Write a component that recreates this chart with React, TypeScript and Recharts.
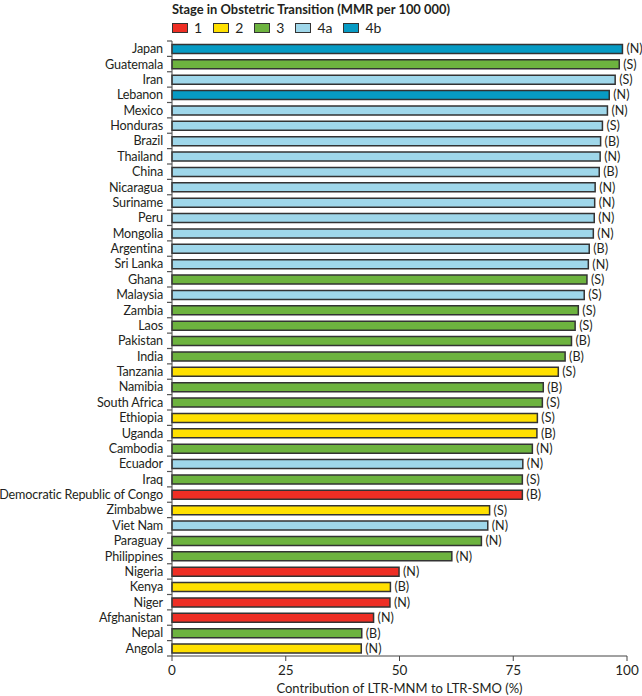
import React from "react";
import {
  BarChart,
  Bar,
  XAxis,
  YAxis,
  Cell,
  LabelList,
} from "recharts";

const countries = [
  "Japan", "Guatemala", "Iran", "Lebanon", "Mexico", "Honduras", "Brazil",
  "Thailand", "China", "Nicaragua", "Suriname", "Peru", "Mongolia",
  "Argentina", "Sri Lanka", "Ghana", "Malaysia", "Zambia", "Laos",
  "Pakistan", "India", "Tanzania", "Namibia", "South Africa", "Ethiopia",
  "Uganda", "Cambodia", "Ecuador", "Iraq", "Democratic Republic of Congo",
  "Zimbabwe", "Viet Nam", "Paraguay", "Philippines", "Nigeria", "Kenya",
  "Niger", "Afghanistan", "Nepal", "Angola",
];

const contribution = [
  99.0, 98.3, 97.4, 96.1, 95.7, 94.6, 94.2, 94.1, 93.9, 93.0, 92.9, 92.8,
  92.6, 91.7, 91.5, 91.2, 90.6, 89.3, 88.6, 87.8, 86.4, 84.9, 81.6, 81.4,
  80.3, 80.2, 79.2, 77.1, 77.0, 77.0, 69.8, 69.4, 68.0, 61.5, 49.9, 48.0,
  47.9, 44.3, 41.7, 41.6,
];

const sourceTag = [
  "N", "S", "S", "N", "N", "S", "B", "N", "B", "N", "N", "N", "N", "B",
  "N", "S", "S", "S", "S", "B", "B", "S", "B", "S", "S", "B", "N", "N",
  "S", "B", "S", "N", "N", "N", "N", "B", "N", "N", "B", "N",
];

const stage = [
  "4b", "3", "4a", "4b", "4a", "4a", "4a", "4a", "4a", "4a", "4a", "4a",
  "4a", "4a", "4a", "3", "4a", "3", "3", "3", "3", "2", "3", "3", "2", "2",
  "3", "4a", "3", "1", "2", "4a", "3", "3", "1", "2", "1", "1", "3", "2",
];

const stages = ["1", "2", "3", "4a", "4b"];
const xTicks = [0, 25, 50, 75, 100];

const stageColors: Record<string, string> = {
  "1": "#ee2e24",
  "2": "#ffe000",
  "3": "#6db33f",
  "4a": "#9fd7ea",
  "4b": "#079bc4",
};

const data = countries.map((c, i) => ({
  country: c,
  value: contribution[i],
  src: `(${sourceTag[i]})`,
  stage: stage[i],
}));

const W = 642;
const H = 696;
const M = { top: 41, right: 15, bottom: 5, left: 0 };
const X_AXIS_H = 35;
const Y_AXIS_W = 172;
const bandHalf = (H - M.top - M.bottom - X_AXIS_H) / countries.length / 2;
const FONT = "Lato, 'Open Sans', sans-serif";
const INK = "#231f20";

// category label centred on the band, tick marks on the band edges
const CountryTick = (props: any) => {
  const { x, y, payload, index } = props;
  const ax = x + 3;
  return (
    <g>
      <line x1={ax - 5} x2={ax} y1={y - bandHalf} y2={y - bandHalf} stroke="#555" strokeWidth={1.2} />
      {index === countries.length - 1 && (
        <line x1={ax - 5} x2={ax} y1={y + bandHalf} y2={y + bandHalf} stroke="#555" strokeWidth={1.2} />
      )}
      <text
        x={x - 6}
        y={y}
        dy={4.5}
        textAnchor="end"
        fontSize={12.6}
        letterSpacing={-0.15}
        fill={INK}
        fontFamily={FONT}
      >
        {payload.value}
      </text>
    </g>
  );
};

const StageLegend = () => (
  <div style={{ position: "absolute", left: 172, top: 0, fontFamily: FONT, color: INK }}>
    <div style={{ fontSize: 12.9, fontWeight: 700, lineHeight: "19px" }}>
      Stage in Obstetric Transition (MMR per 100 000)
    </div>
    <div style={{ display: "flex", alignItems: "center", marginTop: 0 }}>
      {stages.map((s) => (
        <div key={s} style={{ display: "flex", alignItems: "center", marginRight: 11 }}>
          <span
            style={{
              display: "inline-block",
              width: 14,
              height: 8,
              background: stageColors[s],
              border: "1.5px solid #333",
              marginRight: 6,
            }}
          />
          <span style={{ fontSize: 14 }}>{s}</span>
        </div>
      ))}
    </div>
  </div>
);

const App: React.FC = () => (
  <div style={{ position: "absolute", left: 0, top: 0, width: W, height: H, background: "#fff" }}>
    <StageLegend />
    <BarChart
      width={W}
      height={H}
      data={data}
      layout="vertical"
      margin={M}
      barCategoryGap="22%"
    >
      <XAxis
        type="number"
        domain={[0, 100]}
        ticks={xTicks}
        height={X_AXIS_H}
        stroke="#444"
        tickSize={5}
        tickMargin={4}
        tick={{ fill: INK, fontSize: 13.5, fontFamily: FONT }}
        label={{
          value: "Contribution of LTR-MNM to LTR-SMO (%)",
          position: "insideBottom",
          offset: -2,
          fill: INK,
          fontSize: 13,
          fontFamily: FONT,
        }}
      />
      <YAxis
        type="category"
        dataKey="country"
        width={Y_AXIS_W}
        stroke="#444"
        tickLine={false}
        tickSize={0}
        tickMargin={3}
        interval={0}
        tick={<CountryTick />}
      />
      <Bar dataKey="value" stroke="#333" strokeWidth={1.5} isAnimationActive={false}>
        {data.map((d) => (
          <Cell key={d.country} fill={stageColors[d.stage]} />
        ))}
        <LabelList
          dataKey="src"
          position="right"
          offset={4}
          fill={INK}
          fontSize={12.5}
          fontFamily={FONT}
        />
      </Bar>
    </BarChart>
  </div>
);

export default App;
